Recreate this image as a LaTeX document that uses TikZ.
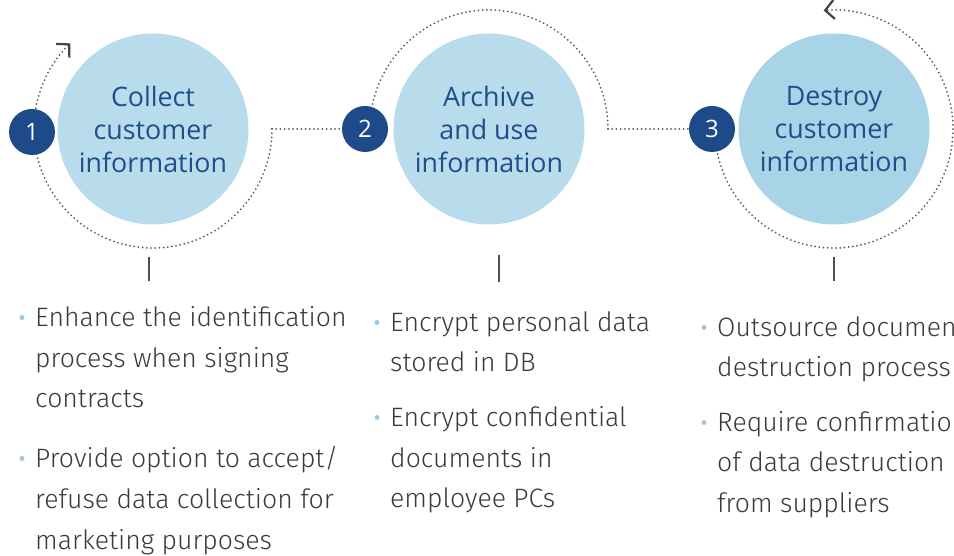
\documentclass[tikz,border=0pt]{standalone}
\usepackage{fontspec}
\setmainfont{Open Sans}
\newfontfamily\bodyfont{Fira Sans}[UprightFont={* Light}]
\usetikzlibrary{arrows.meta,backgrounds}

\definecolor{disc}{HTML}{B8DCEB}
\definecolor{discdeep}{HTML}{A9D3E6}
\definecolor{badge}{HTML}{1F4A89}
\definecolor{titleblue}{HTML}{1F4E8C}
\definecolor{bodygray}{HTML}{3A3A3A}
\definecolor{dotgray}{HTML}{5A5A5A}
\definecolor{tipgray}{HTML}{444444}
\definecolor{tickgray}{HTML}{505050}
\definecolor{bulletblue}{HTML}{9ACBE2}

\tikzset{
  stage/.style={circle, fill=disc, minimum size=191pt, inner sep=0pt, align=center,
    text=titleblue, font=\fontsize{26.8}{33}\selectfont},
  badge/.style={circle, fill=badge, minimum size=46pt, inner sep=0pt, text=white,
    font=\fontsize{24}{24}\selectfont},
  trail/.style={dotgray, line width=2pt, line cap=round, dash pattern=on 0pt off 4.2pt},
  turn/.style={-{Straight Barb[length=9pt,width=19pt,line width=2.2pt,color=tipgray]}},
  tickline/.style={tickgray, line width=1.6pt},
  item/.style={anchor=base west, inner sep=0pt, text=bodygray,
    font=\bodyfont\fontsize{26.6}{41}\selectfont},
  bullet/.style={circle, fill=bulletblue, minimum size=5pt, inner sep=0pt},
}

\begin{document}
\begin{tikzpicture}[x=1pt,y=1pt]
\useasboundingbox (0,0) rectangle (954,556);

% the three stages
\node[stage] (s1) at (153,427) {Collect\\customer\\information};
\node[stage] (s2) at (489,427) {Archive\\and use\\information};
\node[stage, fill=discdeep] (s3) at (834,427) {Destroy\\customer\\information};

% numbered badges
\node[badge] (n1) at (32,424) {1};
\node[badge] (n2) at (365,427) {2};
\node[badge] (n3) at (712,427) {3};

% dotted trail looping round the stages
\coordinate (a1) at (272,427);
\coordinate (a2) at (608,427);
\begin{scope}[on background layer]
  \draw[trail, turn] (s1.center) ++(0:119) arc[start angle=0, end angle=-226, radius=119];
  \draw[trail] (a1) -- (n2);
  \draw[trail] (s2.center) ++(180:119) arc[start angle=180, end angle=0, radius=119];
  \draw[trail] (a2) -- (n3);
  \draw[trail, turn] (s3.center) ++(180:119) arc[start angle=180, end angle=455, radius=119];
\end{scope}

% short rules under each stage
\coordinate (k1a) at (149,299); \coordinate (k1b) at (149,275);
\coordinate (k2a) at (499,301); \coordinate (k2b) at (499,274);
\coordinate (k3a) at (834,299); \coordinate (k3b) at (834,275);
\draw[tickline] (k1a) -- (k1b);
\draw[tickline] (k2a) -- (k2b);
\draw[tickline] (k3a) -- (k3b);

% first column
\node[bullet] (b11) at (22,238.5) {};
\node[item] (t11) at (35,229) {Enhance the identification};
\node[item] (t12) at (35,188) {process when signing};
\node[item] (t13) at (35,148) {contracts};
\node[bullet] (b12) at (22,97.5) {};
\node[item] (t14) at (35,88) {Provide option to accept/};
\node[item] (t15) at (35,47) {refuse data collection for};
\node[item] (t16) at (35,6) {marketing purposes};

% second column
\node[bullet] (b21) at (377,233.5) {};
\node[item] (t21) at (390,224) {Encrypt personal data};
\node[item] (t22) at (390,184) {stored in DB};
\node[bullet] (b22) at (377,138.5) {};
\node[item] (t23) at (390,129) {Encrypt confidential};
\node[item] (t24) at (390,88) {documents in};
\node[item] (t25) at (390,48) {employee PCs};

% third column
\node[bullet] (b31) at (704,228.5) {};
\node[item] (t31) at (717,219) {Outsource document};
\node[item] (t32) at (717,179) {destruction process};
\node[bullet] (b32) at (704,133.5) {};
\node[item] (t33) at (717,124) {Require confirmation};
\node[item] (t34) at (717,84) {of data destruction};
\node[item] (t35) at (717,43) {from suppliers};
\end{tikzpicture}
\end{document}
